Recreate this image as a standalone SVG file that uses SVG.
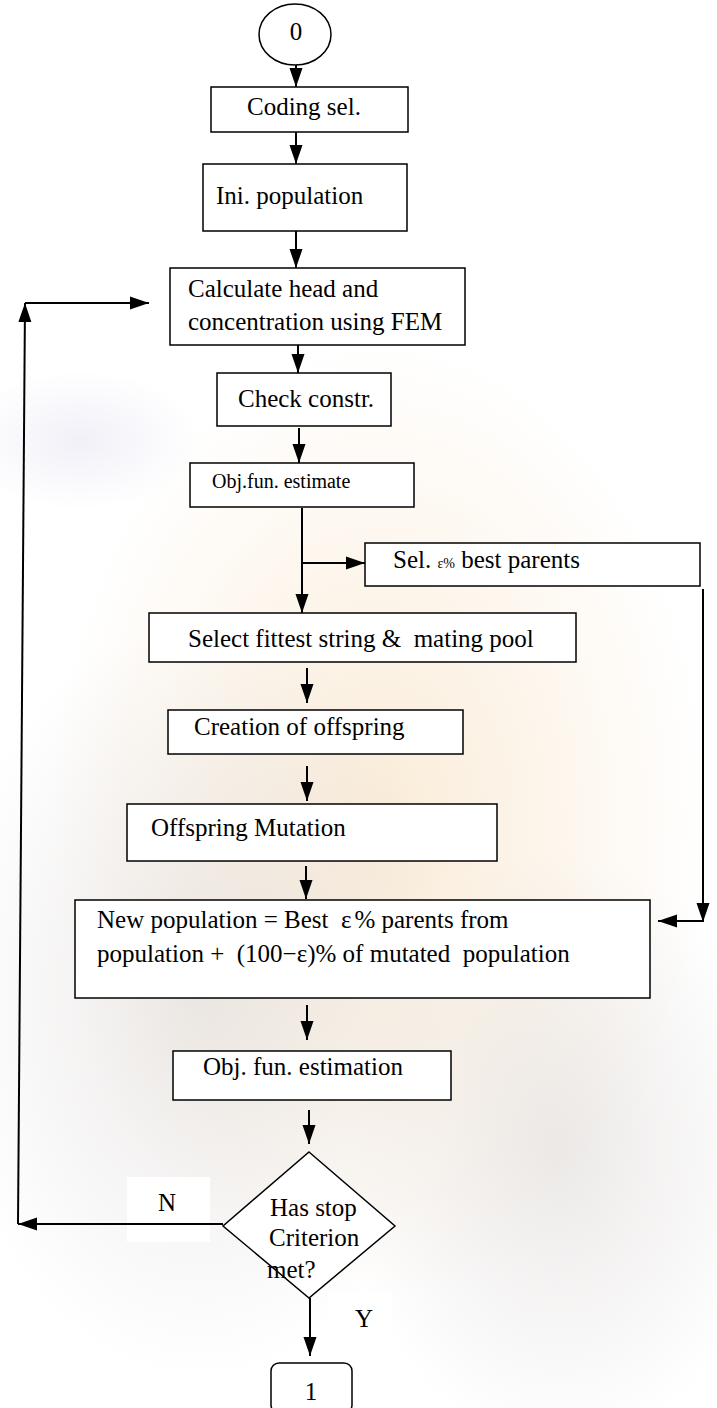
<svg xmlns="http://www.w3.org/2000/svg" width="717" height="1408" viewBox="0 0 717 1408">
<defs>
<marker id="ah" markerUnits="userSpaceOnUse" markerWidth="20" markerHeight="14" refX="19" refY="7" orient="auto"><path d="M0,0.5 L19,7 L0,13.5 z" fill="#000"/></marker>
<radialGradient id="wm1" cx="0.5" cy="0.5" r="0.5"><stop offset="0" stop-color="#f6dcb8" stop-opacity="0.55"/><stop offset="1" stop-color="#f6dcb8" stop-opacity="0"/></radialGradient>
<radialGradient id="wm2" cx="0.5" cy="0.5" r="0.5"><stop offset="0" stop-color="#d9d4d2" stop-opacity="0.5"/><stop offset="1" stop-color="#d9d4d2" stop-opacity="0"/></radialGradient>
<radialGradient id="wm3" cx="0.5" cy="0.5" r="0.5"><stop offset="0" stop-color="#d8d4ec" stop-opacity="0.35"/><stop offset="1" stop-color="#d8d4ec" stop-opacity="0"/></radialGradient>
</defs>
<style>
.box{fill:#fff;stroke:#000;stroke-width:1.5}
.t{font-family:"Liberation Serif","Times New Roman",serif;font-size:25px;fill:#000}
.s{font-size:20px}
.e{font-size:14px}
.c{stroke:#000;stroke-width:2;fill:none}
.a{marker-end:url(#ah)}
.w{fill:#fff;stroke:none}
</style>
<rect width="717" height="1408" fill="#fff"/>
<g id="watermark">
<ellipse cx="380" cy="820" rx="330" ry="480" fill="url(#wm1)"/>
<ellipse cx="200" cy="1000" rx="260" ry="380" fill="url(#wm2)"/>
<ellipse cx="560" cy="1150" rx="220" ry="300" fill="url(#wm2)"/>
<ellipse cx="80" cy="440" rx="120" ry="70" fill="url(#wm3)"/>
</g>
<g id="n-label-n">
<rect class="w" x="127" y="1177" width="83" height="65"/>
<text class="t" x="158" y="1211">N</text>
</g>
<g id="n-label-y">
<rect class="w" x="328" y="1293" width="64" height="64"/>
<text class="t" x="355" y="1327">Y</text>
</g>
<g id="connectors">
<line class="c a" x1="296" y1="65" x2="296" y2="87"/>
<line class="c a" x1="296" y1="132" x2="296" y2="164"/>
<line class="c a" x1="296" y1="231" x2="296" y2="268"/>
<line class="c a" x1="298" y1="343" x2="298" y2="373"/>
<line class="c a" x1="299" y1="428" x2="299" y2="463"/>
<line class="c a" x1="302" y1="508" x2="302" y2="613"/>
<line class="c a" x1="302" y1="563" x2="365" y2="563"/>
<line class="c a" x1="307" y1="668" x2="307" y2="703"/>
<line class="c a" x1="307" y1="766" x2="307" y2="801"/>
<line class="c a" x1="306" y1="866" x2="306" y2="899"/>
<line class="c a" x1="307" y1="1005" x2="307" y2="1040"/>
<line class="c a" x1="309" y1="1110" x2="309" y2="1144"/>
<line class="c a" x1="310" y1="1298" x2="310" y2="1356"/>
<line class="c a" x1="703" y1="589" x2="703" y2="922"/>
<line class="c a" x1="703" y1="921" x2="658" y2="921"/>
<line class="c a" x1="223" y1="1224" x2="18" y2="1224"/>
<line class="c a" x1="18" y1="1224" x2="25" y2="303"/>
<line class="c a" x1="25" y1="303" x2="149" y2="303"/>
</g>
<g id="n-start">
<ellipse cx="295" cy="34.5" rx="36" ry="30.5" class="box"/>
<text class="t" x="296" y="40" text-anchor="middle">0</text>
</g>
<g id="n-coding">
<rect class="box" x="211" y="87" width="197" height="45"/>
<text class="t" x="247" y="115">Coding sel.</text>
</g>
<g id="n-ini">
<rect class="box" x="203" y="164" width="204" height="67"/>
<text class="t" x="216" y="204">Ini. population</text>
</g>
<g id="n-calc">
<rect class="box" x="170" y="268" width="295" height="77"/>
<text class="t" x="188" y="297">Calculate head and</text>
<text class="t" x="188" y="330">concentration using FEM</text>
</g>
<g id="n-check">
<rect class="box" x="217" y="373" width="174" height="53"/>
<text class="t" x="238" y="407">Check constr.</text>
</g>
<g id="n-obj1">
<rect class="box" x="190" y="463" width="224" height="44"/>
<text class="t s" x="212" y="488">Obj.fun. estimate</text>
</g>
<g id="n-sel">
<rect class="box" x="365" y="543" width="335" height="43"/>
<text class="t" x="393" y="568">Sel. <tspan class="e">ε%</tspan> best parents</text>
</g>
<g id="n-fittest">
<rect class="box" x="149" y="613" width="427" height="49"/>
<text class="t" x="188" y="647" xml:space="preserve">Select fittest string &amp;  mating pool</text>
</g>
<g id="n-creation">
<rect class="box" x="168" y="710" width="295" height="44"/>
<text class="t" x="194" y="735">Creation of offspring</text>
</g>
<g id="n-mutation">
<rect class="box" x="127" y="804" width="370" height="57"/>
<text class="t" x="151" y="836">Offspring Mutation</text>
</g>
<g id="n-newpop">
<rect class="box" x="75" y="900" width="575" height="98"/>
<text class="t" x="97" y="928" xml:space="preserve">New population = Best  ε<tspan dx="3">%</tspan> parents from</text>
<text class="t" x="97" y="962" xml:space="preserve">population +  (100−ε)% of mutated  population</text>
</g>
<g id="n-obj2">
<rect class="box" x="173" y="1051" width="278" height="49"/>
<text class="t" x="203" y="1075">Obj. fun. estimation</text>
</g>
<g id="n-decision">
<polygon class="box" points="309,1152 395,1226 309,1298 223,1226"/>
<text class="t" x="270" y="1216">Has stop</text>
<text class="t" x="269" y="1246">Criterion</text>
<text class="t" x="267" y="1278">met?</text>
</g>
<g id="n-end">
<rect class="box" x="271" y="1363" width="81" height="50" rx="8"/>
<text class="t" x="311" y="1400" text-anchor="middle">1</text>
</g>
</svg>
